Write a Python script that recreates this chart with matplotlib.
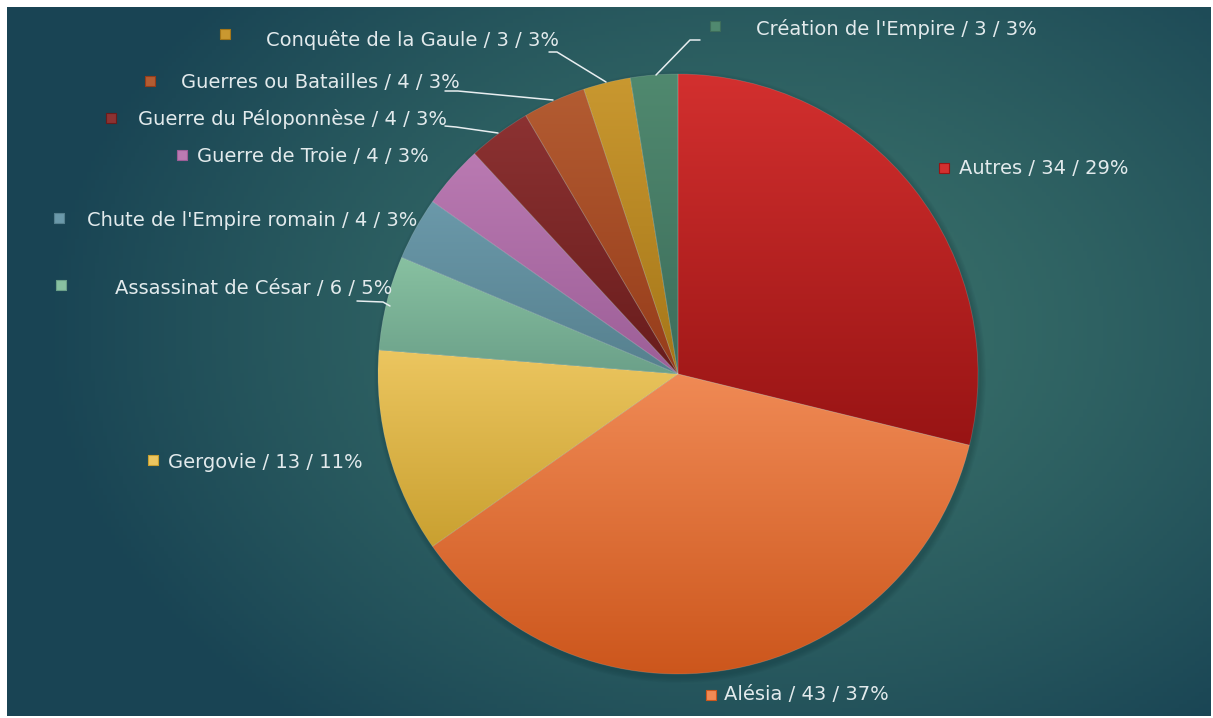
import numpy as np
from matplotlib import pyplot as plt
from matplotlib.colors import LinearSegmentedColormap, to_rgb

W, H = 1213, 718

# data, clockwise from 12 o'clock
labels = ["Autres", "Alésia", "Gergovie", "Assassinat de César",
          "Chute de l'Empire romain", "Guerre de Troie", "Guerre du Péloponnèse",
          "Guerres ou Batailles", "Conquête de la Gaule", "Création de l'Empire"]
values = [34, 43, 13, 6, 4, 4, 4, 4, 3, 3]
percents = ["29%", "37%", "11%", "5%", "3%", "3%", "3%", "3%", "3%", "3%"]

# (top colour, bottom colour) of each slice gradient
top_colors = ["#d3302f", "#f08a55", "#ecc660", "#88c1a1", "#6b99aa",
              "#ba7ab2", "#8c3232", "#b35c32", "#c99830", "#50896f"]
bottom_colors = ["#981414", "#cc561c", "#c9a030", "#6ba089", "#56808e",
                 "#9c5e97", "#681c1c", "#963c1a", "#a57618", "#3d6d5b"]

# label layout in pixels: marker centre, text left x, text centre y
marker_pos = [(944, 168), (711, 695), (153, 460), (61, 285), (59, 218),
              (182, 155), (111, 118), (150, 81), (225, 34), (715, 26)]
text_pos = [(959, 169), (724, 695), (168, 462), (115, 289), (87, 221),
            (197, 157), (138, 119), (181, 83), (266, 40), (756, 29)]

leaders = [
    [(357, 301), (383, 302), (390, 306)],
    [(445, 126), (456, 127), (498, 133)],
    [(445, 91), (458, 91), (553, 100)],
    [(549, 52), (557, 52), (606, 82)],
    [(656, 75), (690, 40), (700, 40)],
]

cx, cy, r = 678, 374, 300


def fy(y):
    return H - y


fig = plt.figure(figsize=(W / 100, H / 100), dpi=100)
fig.patch.set_facecolor("white")
ax = fig.add_axes([0, 0, 1, 1])

# background radial gradient
gx, gy = np.meshgrid(np.linspace(7, 1211, 300), np.linspace(7, 716, 180))
d = np.sqrt(((gx - 760) / 720) ** 2 + ((gy - 330) / 520) ** 2)
d = np.clip(d, 0, 1) ** 1.3
inner = np.array(to_rgb("#3b736b"))
outer = np.array(to_rgb("#194454"))
bg = inner[None, None, :] * (1 - d[..., None]) + outer[None, None, :] * d[..., None]
ax.imshow(bg, extent=(7, 1211, fy(716), fy(7)), origin="upper", aspect="auto", zorder=0)

# soft shadow under the pie
for k in range(5):
    sh = plt.Circle((cx + 2, fy(cy) - 3), r + 1 + k * 1.2, color="#0c2a30",
                    alpha=0.05, zorder=1, lw=0)
    ax.add_patch(sh)

wedges, _ = ax.pie(values, startangle=90, counterclock=False, center=(cx, fy(cy)),
                   radius=r, frame=True,
                   wedgeprops=dict(edgecolor=(1, 1, 1, 0.15), linewidth=0.6))

grad = np.linspace(0, 1, 256)[:, None]
for w, c1, c2 in zip(wedges, top_colors, bottom_colors):
    w.set_facecolor("none")
    w.set_zorder(3)
    bb = w.get_path().get_extents()
    cmap = LinearSegmentedColormap.from_list("g", [c2, c1])
    im = ax.imshow(grad, cmap=cmap, origin="lower", aspect="auto", zorder=2,
                   extent=(cx - r, cx + r, bb.y0 - 1, bb.y1 + 1))
    im.set_clip_path(w)

for pts in leaders:
    xs = [p[0] for p in pts]
    ys = [fy(p[1]) for p in pts]
    ax.plot(xs, ys, color="#e8eef0", lw=1.1, zorder=4, solid_capstyle="round")

for lab, v, p, (mx, my), (tx, ty), c1, c2 in zip(labels, values, percents, marker_pos,
                                                  text_pos, top_colors, bottom_colors):
    ax.scatter([mx], [fy(my)], marker="s", s=44, color=c1, edgecolors=c2,
               linewidths=0.8, zorder=5)
    ax.text(tx, fy(ty), f"{lab} / {v} / {p}", color="#e2eaec", fontsize=14,
            family="DejaVu Sans", ha="left", va="center", zorder=5)

ax.set_xlim(0, W)
ax.set_ylim(0, H)
ax.set_aspect("equal")
ax.axis("off")

fig.savefig("out.png", dpi=100, facecolor="white")
